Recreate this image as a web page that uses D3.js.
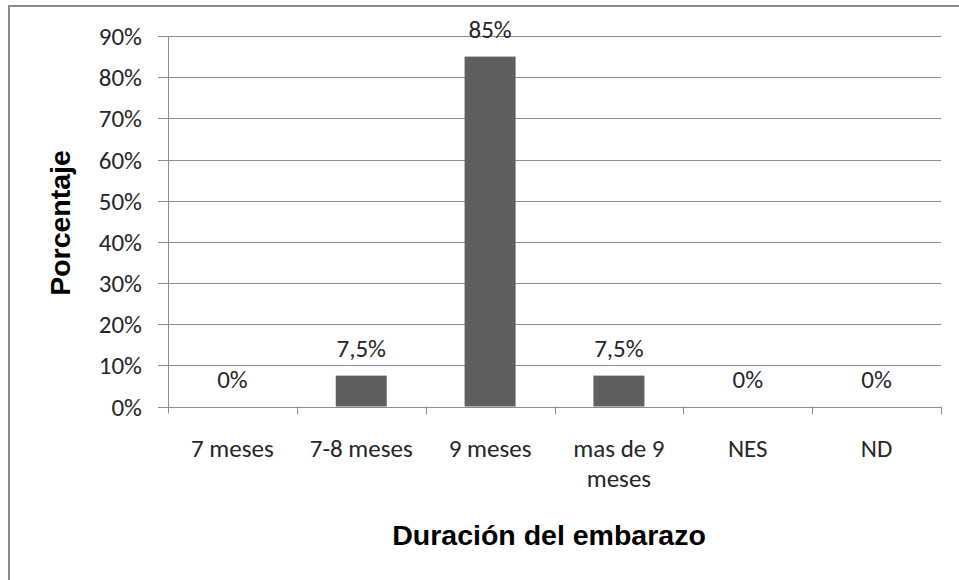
<!DOCTYPE html>
<html>
<head>
<meta charset="utf-8">
<script src="https://cdn.jsdelivr.net/npm/d3@7"></script>
<style>
  html, body { margin: 0; padding: 0; background: #fff; }
  svg { display: block; }
  .tick-label { font-family: Carlito, Lato, "Open Sans", sans-serif; font-size: 25px; fill: #262626; }
  .axis-title { font-family: "Liberation Sans", Arial, sans-serif; font-weight: bold; font-size: 28.5px; fill: #000; }
</style>
</head>
<body>
<script>
// Duración del embarazo — distribución porcentual
const categories = ["7 meses", "7-8 meses", "9 meses", "mas de 9 meses", "NES", "ND"];
const categoryLines = [["7 meses"], ["7-8 meses"], ["9 meses"], ["mas de 9", "meses"], ["NES"], ["ND"]];
const values = [0, 7.5, 85, 7.5, 0, 0];
const valueLabels = ["0%", "7,5%", "85%", "7,5%", "0%", "0%"];
const yTicks = [0, 10, 20, 30, 40, 50, 60, 70, 80, 90];

const W = 959, H = 580;
const plot = { left: 168, right: 941, top: 36, bottom: 406.5 };

const svg = d3.select("body").append("svg").attr("width", W).attr("height", H);

// outer frame of the chart area
svg.append("path")
  .attr("d", `M9,${H + 5} V6 H${W + 5}`)
  .attr("fill", "none").attr("stroke", "#8a8a8a").attr("stroke-width", 2);

const x = d3.scaleBand().domain(categories).range([plot.left, plot.right]).paddingInner(0).paddingOuter(0);
const y = d3.scaleLinear().domain([0, 90]).range([plot.bottom, plot.top]);

// horizontal gridlines + tick marks on the left
const g = svg.append("g");
g.selectAll("line.grid").data(yTicks).join("line")
  .attr("x1", plot.left - 10).attr("x2", plot.right)
  .attr("y1", d => Math.round(y(d)) + 0.5).attr("y2", d => Math.round(y(d)) + 0.5)
  .attr("stroke", "#8c8c8c").attr("stroke-width", 1);

g.selectAll("text.ytick").data(yTicks).join("text")
  .attr("class", "tick-label")
  .attr("x", plot.left - 26).attr("y", d => y(d))
  .attr("dy", "0.36em").attr("text-anchor", "end")
  .text(d => d + "%");

// vertical axis line
g.append("line")
  .attr("x1", plot.left + 0.5).attr("x2", plot.left + 0.5)
  .attr("y1", y(90)).attr("y2", plot.bottom + 7)
  .attr("stroke", "#8c8c8c");

// category boundary ticks on the x axis
const bounds = categories.map(c => x(c)).concat([x(categories[categories.length - 1]) + x.bandwidth()]);
g.selectAll("line.xtick").data(bounds.slice(1)).join("line")
  .attr("x1", d => Math.round(d) + 0.5).attr("x2", d => Math.round(d) + 0.5)
  .attr("y1", plot.bottom).attr("y2", plot.bottom + 8)
  .attr("stroke", "#8c8c8c");

// bars
const barW = 51;
g.selectAll("rect.bar").data(values).join("rect")
  .attr("x", (d, i) => x(categories[i]) + x.bandwidth() / 2 - barW / 2)
  .attr("width", barW)
  .attr("y", d => y(d))
  .attr("height", d => y(0) - y(d))
  .attr("fill", "#5f5f5f");

// value labels above bars
g.selectAll("text.val").data(values).join("text")
  .attr("class", "tick-label")
  .attr("x", (d, i) => x(categories[i]) + x.bandwidth() / 2)
  .attr("y", d => y(d) - 19)
  .attr("text-anchor", "middle")
  .text((d, i) => valueLabels[i]);

// category labels
const cat = g.selectAll("text.cat").data(categories).join("text")
  .attr("class", "tick-label")
  .attr("text-anchor", "middle")
  .attr("x", d => x(d) + x.bandwidth() / 2)
  .attr("y", 457);
cat.selectAll("tspan").data((d, i) => categoryLines[i]).join("tspan")
  .attr("x", function () { return this.parentNode.getAttribute("x"); })
  .attr("dy", (d, j) => j === 0 ? 0 : 30)
  .text(d => d);

// axis titles
svg.append("text").attr("class", "axis-title")
  .attr("x", 549).attr("y", 545).attr("text-anchor", "middle")
  .text("Duración del embarazo");

svg.append("text").attr("class", "axis-title")
  .attr("transform", "translate(70,223) rotate(-90)")
  .attr("text-anchor", "middle")
  .text("Porcentaje");
</script>
</body>
</html>
